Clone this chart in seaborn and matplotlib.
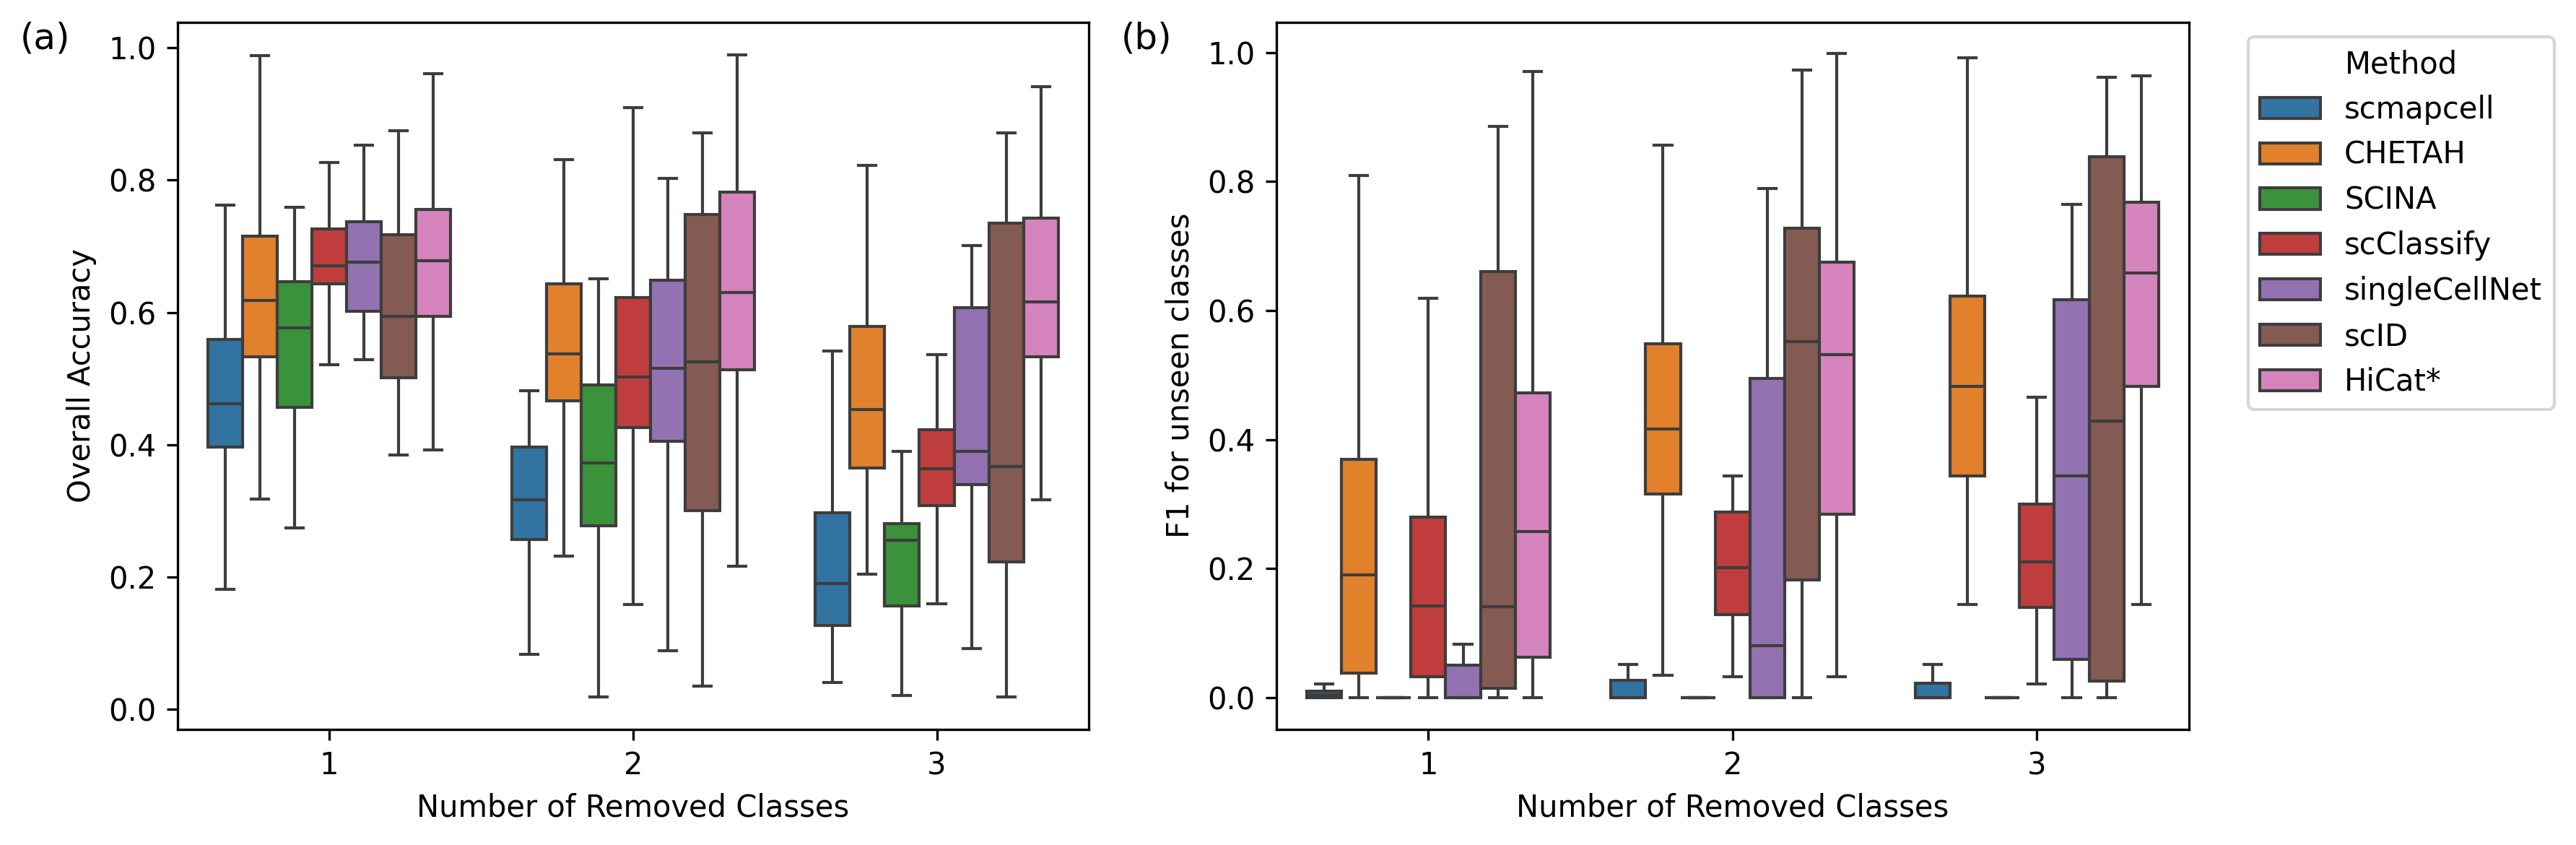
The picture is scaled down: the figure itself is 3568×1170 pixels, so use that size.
import numpy as np
import pandas as pd
import matplotlib
matplotlib.use("Agg")
import matplotlib.pyplot as plt
import seaborn as sns

methods = ["scmapcell", "CHETAH", "SCINA", "scClassify", "singleCellNet", "scID", "HiCat*"]
groups = [1, 2, 3]

# five-number summaries (min, Q1, median, Q3, max) per method, per group
acc_g1 = [
    [0.181, 0.396, 0.462, 0.559, 0.762],
    [0.318, 0.533, 0.618, 0.715, 0.988],
    [0.274, 0.456, 0.577, 0.647, 0.759],
    [0.521, 0.643, 0.671, 0.726, 0.827],
    [0.529, 0.602, 0.676, 0.737, 0.853],
    [0.384, 0.501, 0.594, 0.717, 0.875],
    [0.392, 0.594, 0.678, 0.756, 0.961],
]
acc_g2 = [
    [0.083, 0.257, 0.317, 0.396, 0.482],
    [0.231, 0.466, 0.537, 0.643, 0.831],
    [0.019, 0.277, 0.372, 0.490, 0.651],
    [0.158, 0.426, 0.502, 0.623, 0.910],
    [0.088, 0.405, 0.515, 0.649, 0.803],
    [0.035, 0.300, 0.525, 0.748, 0.871],
    [0.216, 0.513, 0.630, 0.782, 0.990],
]
acc_g3 = [
    [0.040, 0.127, 0.190, 0.297, 0.542],
    [0.204, 0.365, 0.453, 0.579, 0.822],
    [0.021, 0.156, 0.256, 0.281, 0.390],
    [0.159, 0.308, 0.364, 0.423, 0.536],
    [0.092, 0.340, 0.390, 0.607, 0.701],
    [0.018, 0.223, 0.367, 0.735, 0.871],
    [0.317, 0.533, 0.616, 0.743, 0.941],
]

f1_g1 = [
    [0.000, 0.000, 0.005, 0.010, 0.021],
    [0.000, 0.038, 0.191, 0.370, 0.809],
    [0.000, 0.000, 0.000, 0.000, 0.000],
    [0.000, 0.033, 0.142, 0.280, 0.619],
    [0.000, 0.000, 0.000, 0.050, 0.083],
    [0.000, 0.015, 0.141, 0.661, 0.885],
    [0.000, 0.063, 0.258, 0.472, 0.971],
]
f1_g2 = [
    [0.000, 0.000, 0.000, 0.027, 0.052],
    [0.035, 0.316, 0.416, 0.549, 0.856],
    [0.000, 0.000, 0.000, 0.000, 0.000],
    [0.033, 0.129, 0.202, 0.288, 0.344],
    [0.000, 0.000, 0.081, 0.495, 0.789],
    [0.000, 0.183, 0.552, 0.728, 0.973],
    [0.033, 0.284, 0.532, 0.675, 0.999],
]
f1_g3 = [
    [0.000, 0.000, 0.000, 0.023, 0.052],
    [0.144, 0.344, 0.482, 0.623, 0.992],
    [0.000, 0.000, 0.000, 0.000, 0.000],
    [0.022, 0.140, 0.211, 0.300, 0.466],
    [0.000, 0.059, 0.344, 0.617, 0.765],
    [0.000, 0.026, 0.429, 0.838, 0.961],
    [0.145, 0.482, 0.658, 0.768, 0.964],
]


def build(tables):
    rows = []
    for g, tab in zip(groups, tables):
        for m, vals in zip(methods, tab):
            for v in vals:
                rows.append({"Number of Removed Classes": g, "Method": m, "value": v})
    return pd.DataFrame(rows)


df_acc = build([acc_g1, acc_g2, acc_g3])
df_f1 = build([f1_g1, f1_g2, f1_g3])

fig = plt.figure(figsize=(3568 / 300, 1170 / 300), dpi=300)
ax1 = fig.add_axes([0.0689, 0.1368, 0.3537, 0.837])
ax2 = fig.add_axes([0.4954, 0.1368, 0.3544, 0.837])

palette = sns.color_palette("tab10", 7)

sns.boxplot(data=df_acc, x="Number of Removed Classes", y="value", hue="Method",
            hue_order=methods, palette=palette, whis=(0, 100), ax=ax1, legend=False)
sns.boxplot(data=df_f1, x="Number of Removed Classes", y="value", hue="Method",
            hue_order=methods, palette=palette, whis=(0, 100), ax=ax2)

ax1.set_ylabel("Overall Accuracy")
ax2.set_ylabel("F1 for unseen classes")
ax1.set_ylim(-0.0306, 1.039)
ax2.set_ylim(-0.049, 1.047)

sns.move_legend(ax2, "upper left", bbox_to_anchor=(1.048, 1.0), title="Method",
                frameon=True)

fig.text(0.0078, 0.942, "(a)", fontsize=12)
fig.text(0.4352, 0.942, "(b)", fontsize=12)

fig.savefig("out.png", dpi=300)
